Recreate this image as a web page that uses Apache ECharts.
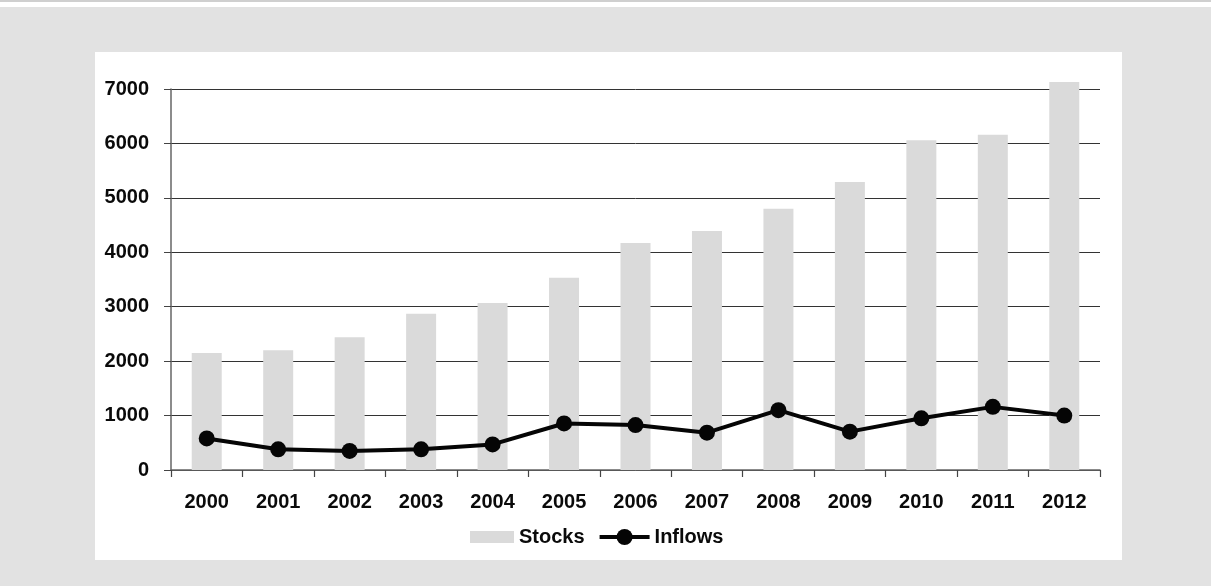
<!DOCTYPE html>
<html>
<head>
<meta charset="utf-8">
<script src="https://cdn.jsdelivr.net/npm/echarts@6/dist/echarts.min.js"></script>
<style>
  html, body { margin: 0; padding: 0; background: #ffffff; }
  #frame { position: absolute; left: 0; top: 0; width: 1211px; height: 586px; background: #ffffff; overflow: hidden; }
  #rule { position: absolute; left: 0; top: 0; width: 1211px; height: 2px; background: #cfcfcf; }
  #band { position: absolute; left: 0; top: 7px; width: 1211px; height: 579px; background: #e2e2e2; }
  #panel { position: absolute; left: 95px; top: 52px; width: 1027px; height: 508px; background: #ffffff; }
  #chart { position: absolute; left: 0; top: 0; width: 1211px; height: 586px; }
</style>
</head>
<body>
<div id="frame">
  <div id="rule"></div>
  <div id="band"></div>
  <div id="panel"></div>
  <div id="chart"></div>
</div>
<script>
// Years on the category axis
const years = ['2000', '2001', '2002', '2003', '2004', '2005', '2006',
               '2007', '2008', '2009', '2010', '2011', '2012'];
// Stocks (bars)
const stocks = [2150, 2200, 2440, 2870, 3070, 3530, 4170, 4390, 4800, 5290, 6060, 6160, 7130];
// Inflows (line)
const inflows = [580, 380, 350, 380, 470, 855, 825, 685, 1100, 705, 950, 1160, 1000];
// Value-axis ticks
const yTicks = [0, 1000, 2000, 3000, 4000, 5000, 6000, 7000];

const FONT = "'Liberation Sans Narrow', 'Arial Narrow', 'Liberation Sans', Arial, sans-serif";
const textStyle = { fontFamily: FONT, fontWeight: 'bold', fontSize: 20, color: '#0a0a0a' };

// Legend swatch for the bars: a 44x12 block inside a 50x20 box (invisible corner
// points keep the box size so the block is not stretched).
const stockSwatch = 'path://M0,0L0.01,0M6,4L50,4L50,16L6,16ZM50,20L49.99,20';

const chart = echarts.init(document.getElementById('chart'), null, { renderer: 'canvas' });

chart.setOption({
  backgroundColor: 'transparent',
  animation: false,
  textStyle: { fontFamily: FONT },
  grid: { left: 171, right: 111, top: 89, bottom: 116, containLabel: false },
  legend: {
    data: [
      { name: 'Stocks', icon: stockSwatch },
      { name: 'Inflows', lineStyle: { width: 4, color: '#050505' } }
    ],
    left: 464, top: 527, padding: 0,
    itemWidth: 50, itemHeight: 20, itemGap: 13,
    textStyle: Object.assign({}, textStyle)
  },
  xAxis: {
    type: 'category',
    data: years,
    boundaryGap: true,
    axisLine: { show: true, lineStyle: { color: '#666666', width: 1.5 } },
    axisTick: { show: true, length: 7, alignWithLabel: false, lineStyle: { color: '#444444', width: 1.2 } },
    axisLabel: Object.assign({}, textStyle, { margin: 22 }),
    splitLine: { show: false }
  },
  yAxis: {
    type: 'value',
    min: yTicks[0],
    max: yTicks[yTicks.length - 1],
    interval: 1000,
    axisLine: { show: true, lineStyle: { color: '#666666', width: 1.5 } },
    axisTick: { show: true, length: 7, lineStyle: { color: '#444444', width: 1 } },
    axisLabel: Object.assign({}, textStyle, { margin: 22, formatter: (v) => String(v) }),
    splitLine: { show: true, lineStyle: { color: '#333333', width: 1 } }
  },
  series: [
    {
      name: 'Stocks',
      type: 'bar',
      data: stocks,
      barWidth: 30,
      clip: false,
      itemStyle: { color: '#dadada' },
      z: 1
    },
    {
      name: 'Inflows',
      type: 'line',
      data: inflows,
      symbol: 'circle',
      symbolSize: 16,
      showAllSymbol: true,
      clip: false,
      lineStyle: { color: '#050505', width: 4 },
      itemStyle: { color: '#050505' },
      z: 3
    }
  ]
});
</script>
</body>
</html>
